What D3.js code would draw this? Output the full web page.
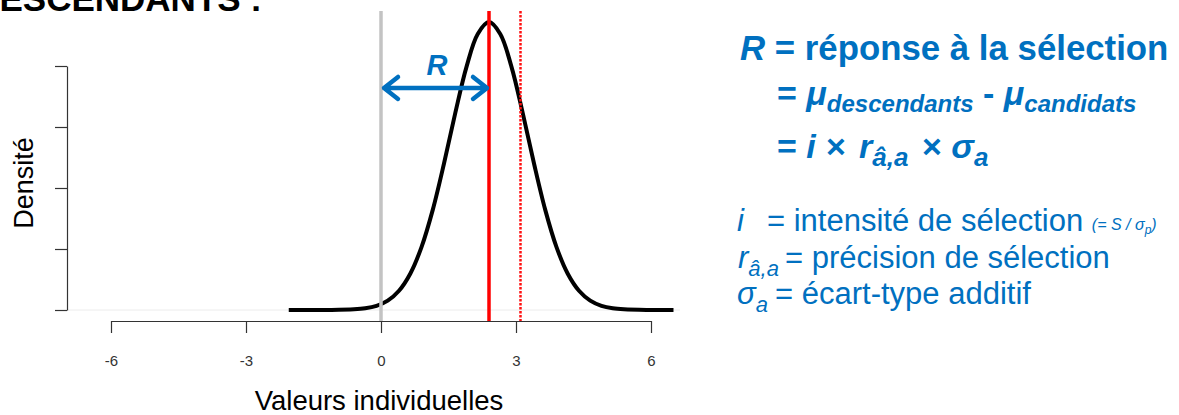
<!DOCTYPE html>
<html>
<head>
<meta charset="utf-8">
<script src="https://cdn.jsdelivr.net/npm/d3@7"></script>
<style>
  html, body { margin: 0; padding: 0; background: #fff; }
  svg { display: block; font-family: "Liberation Sans", Arial, Helvetica, sans-serif; }
</style>
</head>
<body>
<svg id="chart" width="1179" height="415"></svg>
<script>
// ---- data ----
const xTicks = [-6, -3, 0, 3, 6];
const xTickLabels = ["-6", "-3", "0", "3", "6"];
const yTicks = [0, 0.1, 0.2, 0.3, 0.4];
// density curve of the descendants (x value, density in axis units)
const curveX = [-2.05, -1.1, -0.6, -0.35, -0.1, 0.15, 0.4, 0.65, 0.9, 1.15, 1.4, 1.65, 1.9, 2.15, 2.4,
                2.65, 2.9, 3.15, 3.4, 3.65, 3.9, 4.15, 4.4, 4.65, 4.9, 5.15, 5.4, 5.9, 6.5];
const curveD = [0, 0.0001, 0.0011, 0.0028, 0.0069, 0.0154, 0.0316, 0.0595, 0.1031, 0.1641, 0.2401, 0.3227, 0.3986, 0.4525, 0.472,
                0.4525, 0.3986, 0.3227, 0.2401, 0.1641, 0.1031, 0.0595, 0.0316, 0.0154, 0.0069, 0.0028, 0.0011, 0.0001, 0];
const muCandidats = 0;       // grey line
const muDescendants = 2.4;   // solid red line
const dottedLine = 3.1;      // dotted red line
const arrowLevel = 0.364;    // height of the R arrow
const curveTop = 0.49;       // top of vertical lines

const blue = "#0070C0";
const svg = d3.select("#chart");

const x = d3.scaleLinear().domain([-6, 6]).range([111, 651]);
const y = d3.scaleLinear().domain([0, 0.4]).range([310, 66]);

// faint baseline
svg.append("line").attr("x1", 67).attr("x2", 680).attr("y1", y(0)).attr("y2", y(0))
  .attr("stroke", "#ececec").attr("stroke-width", 1);

// y axis
const yAxis = svg.append("g").attr("transform", "translate(67,0)")
  .call(d3.axisLeft(y).tickValues(yTicks).tickSize(12).tickSizeOuter(0).tickFormat(""));
yAxis.selectAll("path, line").attr("stroke", "#333").attr("stroke-width", 1.2);

// x axis
const xAxis = svg.append("g").attr("transform", "translate(0,321)")
  .call(d3.axisBottom(x).tickValues(xTicks).tickSize(12).tickSizeOuter(0)
    .tickFormat((d, i) => xTickLabels[i]).tickPadding(22));
xAxis.selectAll("path, line").attr("stroke", "#333").attr("stroke-width", 1.2);
xAxis.selectAll("text").attr("font-size", 15).attr("fill", "#333")
  .attr("font-family", "'Liberation Sans', Arial, sans-serif");

// curve
const pts = curveX.map((v, i) => [v, curveD[i]]);
svg.append("path").datum(pts)
  .attr("d", d3.line().x(d => x(d[0])).y(d => y(d[1])).curve(d3.curveCatmullRom))
  .attr("fill", "none").attr("stroke", "#000").attr("stroke-width", 4)
  .attr("stroke-linejoin", "round");

// vertical lines
svg.append("line").attr("x1", x(muCandidats)).attr("x2", x(muCandidats))
  .attr("y1", y(curveTop)).attr("y2", 321).attr("stroke", "#c3c3c3").attr("stroke-width", 3.5);
svg.append("line").attr("x1", x(muDescendants)).attr("x2", x(muDescendants))
  .attr("y1", y(curveTop)).attr("y2", 321).attr("stroke", "#ff0000").attr("stroke-width", 3.5);
svg.append("line").attr("x1", x(dottedLine)).attr("x2", x(dottedLine))
  .attr("y1", y(curveTop)).attr("y2", 321).attr("stroke", "#ff1010").attr("stroke-width", 2.5)
  .attr("stroke-dasharray", "2.5,1.5");

// R arrow
const ax1 = x(muCandidats) + 3, ax2 = x(muDescendants) - 2, ay = y(arrowLevel);
svg.append("path")
  .attr("d", `M${ax1},${ay}H${ax2}M${ax1 + 14},${ay - 11}L${ax1},${ay}L${ax1 + 14},${ay + 11}` +
             `M${ax2 - 14},${ay - 11}L${ax2},${ay}L${ax2 - 14},${ay + 11}`)
  .attr("fill", "none").attr("stroke", blue).attr("stroke-width", 4.5)
  .attr("stroke-linecap", "round").attr("stroke-linejoin", "round");
svg.append("text").attr("x", x((muCandidats + muDescendants) / 2) + 2).attr("y", 75)
  .attr("text-anchor", "middle").attr("font-size", 29).attr("font-weight", "bold")
  .attr("font-style", "italic").attr("fill", blue).text("R");

// axis titles
svg.append("text").attr("transform", "translate(33,183) rotate(-90)")
  .attr("text-anchor", "middle").attr("font-size", 27).attr("fill", "#000").text("Densité");
svg.append("text").attr("x", 379).attr("y", 410).attr("text-anchor", "middle")
  .attr("font-size", 27.5).attr("fill", "#000").text("Valeurs individuelles");

// cut-off slide title
svg.append("text").attr("x", 262).attr("y", 11).attr("text-anchor", "end")
  .attr("font-size", 35).attr("font-weight", "bold").attr("fill", "#000").text("DESCENDANTS :");

// ---- right-hand formulas ----
const g = svg.append("g").attr("fill", blue);
function line(yb, size, bold) {
  return g.append("text").attr("y", yb).attr("font-size", size)
    .attr("font-weight", bold ? "bold" : "normal");
}
// line 1
let t = line(60, 34.8, true).attr("x", 740);
t.append("tspan").attr("font-style", "italic").text("R");
t.append("tspan").text(" = réponse à la sélection");
// line 2
t = line(105, 34, true).attr("x", 777);
t.append("tspan").text("= ");
t.append("tspan").attr("font-style", "italic").text("μ");
t.append("tspan").attr("font-style", "italic").attr("font-size", 24).attr("dy", 7).text("descendants");
t.append("tspan").attr("dy", -7).text(" - ");
t.append("tspan").attr("font-style", "italic").text("μ");
t.append("tspan").attr("font-style", "italic").attr("font-size", 24).attr("dy", 7).text("candidats");
// line 3
t = line(158, 34, true).attr("x", 777);
t.append("tspan").text("= ");
t.append("tspan").attr("font-style", "italic").text("i");
t.append("tspan").attr("x", 826).text("×");
t.append("tspan").attr("x", 859).attr("font-style", "italic").text("r");
t.append("tspan").attr("font-style", "italic").attr("font-size", 26).attr("dy", 8).text("â,a");
t.append("tspan").attr("x", 922).attr("dy", -8).text("× ");
t.append("tspan").attr("font-style", "italic").text("σ");
t.append("tspan").attr("font-style", "italic").attr("font-size", 26).attr("dy", 8).text("a");
// line 4
t = line(231, 31, false).attr("x", 737);
t.append("tspan").attr("font-style", "italic").text("i");
t.append("tspan").attr("x", 767).text("= intensité de sélection ");
t.append("tspan").attr("font-size", 16).attr("font-style", "italic").attr("dy", -1).text("(= S / σ");
t.append("tspan").attr("font-size", 12).attr("font-style", "italic").attr("dy", 4).text("p");
t.append("tspan").attr("font-size", 16).attr("font-style", "italic").attr("dy", -4).text(")");
// line 5
t = line(268, 31, false).attr("x", 738);
t.append("tspan").attr("font-style", "italic").text("r");
t.append("tspan").attr("font-style", "italic").attr("font-size", 22).attr("dy", 8).text("â,a");
t.append("tspan").attr("x", 785).attr("dy", -8).text("= précision de sélection");
// line 6
t = line(304, 31, false).attr("x", 737);
t.append("tspan").attr("font-style", "italic").text("σ");
t.append("tspan").attr("font-style", "italic").attr("font-size", 22).attr("dy", 8).text("a");
t.append("tspan").attr("x", 775).attr("dy", -8).text("= écart-type additif");
</script>
</body>
</html>
